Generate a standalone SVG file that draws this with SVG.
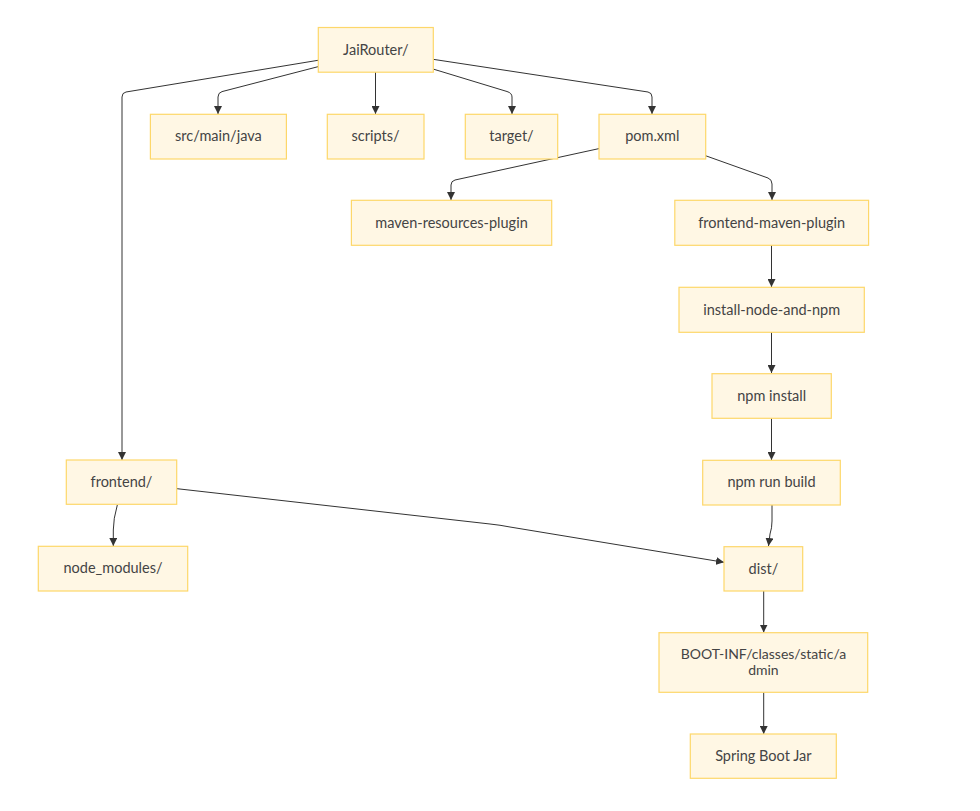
<svg xmlns="http://www.w3.org/2000/svg" width="980" height="811" viewBox="0 0 980 811">
<style>
.node rect{fill:#fff7e4;stroke:#fdd76a;stroke-width:1.2}
.node text{font-family:"Lato","Liberation Sans",sans-serif;font-size:14.5px;fill:#444;text-anchor:middle;dominant-baseline:central}
.node text.sm{font-size:14px}
.edges path{fill:none;stroke:#333;stroke-width:1}
</style>
<defs>
<marker id="arr" viewBox="0 0 10 10" refX="10" refY="5" markerWidth="8" markerHeight="8" markerUnits="userSpaceOnUse" orient="auto">
<path d="M0,0 L10,5 L0,10 z" fill="#333"/>
</marker>
</defs>
<rect width="980" height="811" fill="#fff"/>
<g class="edges">
<path d="M318,66.7 L222,91.6 Q218,92.7 218,97 L218,114" marker-end="url(#arr)"/>
<path d="M375.5,72 L375.5,114" marker-end="url(#arr)"/>
<path d="M433,69 L507,91.5 Q512,93 512,97 L512,114" marker-end="url(#arr)"/>
<path d="M433,59.3 L648,92 Q652,92.7 652,97 L652,114" marker-end="url(#arr)"/>
<path d="M318,60.3 L126,92 Q122,92.7 122,97 L122,460" marker-end="url(#arr)"/>
<path d="M599,148.6 L455,180 Q451,181 451,185 L451,200" marker-end="url(#arr)"/>
<path d="M705.5,155.7 L768,178 Q772,179.5 772,184 L772,200" marker-end="url(#arr)"/>
<path d="M771.5,245 L771.5,287" marker-end="url(#arr)"/>
<path d="M771.5,332 L771.5,373" marker-end="url(#arr)"/>
<path d="M771.5,418 L771.5,460" marker-end="url(#arr)"/>
<path d="M772,505 L772,521 Q772,528 770,534 L768.5,546" marker-end="url(#arr)"/>
<path d="M177,488.7 L490,524 Q500,525 510,527 L724,562.3" marker-end="url(#arr)"/>
<path d="M117.3,505 Q113.3,519 113.3,530 L113.3,546" marker-end="url(#arr)"/>
<path d="M763.7,591 L763.7,632.5" marker-end="url(#arr)"/>
<path d="M763.7,692.3 L763.7,734" marker-end="url(#arr)"/>
</g>
<g id="jairouter" class="node"><rect x="318.3" y="27.5" width="115" height="44.7"/><text x="375.8" y="49.3">JaiRouter/</text></g>
<g id="src" class="node"><rect x="150.4" y="114.3" width="136" height="44.7"/><text x="218.4" y="135.9">src/main/java</text></g>
<g id="scripts" class="node"><rect x="327.3" y="114.3" width="96.7" height="44.7"/><text x="375.6" y="135.9">scripts/</text></g>
<g id="target" class="node"><rect x="465.3" y="114.3" width="92.4" height="44.7"/><text x="511.5" y="135.9">target/</text></g>
<g id="pom" class="node"><rect x="599" y="114.3" width="106.7" height="44.7"/><text x="652.3" y="135.9">pom.xml</text></g>
<g id="mavenres" class="node"><rect x="351.4" y="200.3" width="200.3" height="45"/><text x="451.5" y="222.1">maven-resources-plugin</text></g>
<g id="frontendmaven" class="node"><rect x="674.8" y="200.3" width="193.8" height="45"/><text x="771.7" y="222.1">frontend-maven-plugin</text></g>
<g id="installnode" class="node"><rect x="679" y="287.3" width="185.3" height="45"/><text x="771.7" y="309.1">install-node-and-npm</text></g>
<g id="npminstall" class="node"><rect x="712" y="373.7" width="119.3" height="44.6"/><text x="771.7" y="395.3">npm install</text></g>
<g id="npmbuild" class="node"><rect x="702.7" y="460.3" width="137.6" height="44.7"/><text x="771.5" y="481.9">npm run build</text></g>
<g id="frontend" class="node"><rect x="66.3" y="460" width="110.4" height="44.3"/><text x="121.5" y="481.5">frontend/</text></g>
<g id="nodemodules" class="node"><rect x="38.3" y="546.3" width="149.4" height="44.7"/><text x="113" y="567.9">node_modules/</text></g>
<g id="dist" class="node"><rect x="724" y="546.7" width="78.7" height="44.3"/><text x="763.4" y="568.1">dist/</text></g>
<g id="bootinf" class="node"><rect x="659" y="632.7" width="208.7" height="59.6"/><text class="sm" x="763.4" y="653">BOOT-INF/classes/static/a</text><text class="sm" x="763.4" y="669">dmin</text></g>
<g id="springjar" class="node"><rect x="690.3" y="734" width="146" height="44.3"/><text x="763.3" y="755.5">Spring Boot Jar</text></g>
</svg>
